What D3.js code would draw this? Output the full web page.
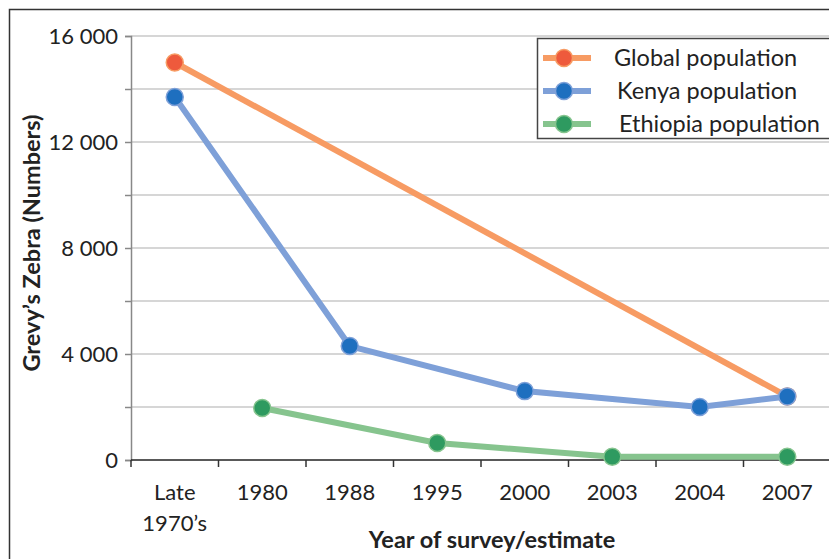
<!DOCTYPE html>
<html lang="en">
<head>
    <meta charset="UTF-8">
    <title>Grevy's Zebra population</title>
    <script src="https://d3js.org/d3.v7.min.js"></script>
</head>

<style>
    body { margin: 0; background: #fff; }
    text {
        font-family: Lato, "Open Sans", sans-serif;
        fill: #222;
    }
    .grid line { stroke: #c8c8c8; stroke-width: 1.5px; }
</style>

<body>
<svg width="829" height="559"></svg>

<script>
    // data
    var years = ["Late\n1970\u2019s", "1980", "1988", "1995", "2000", "2003", "2004", "2007"];
    var globalPop = [15000, null, null, null, null, null, null, 2400];
    var kenyaPop = [13700, null, 4300, null, 2600, null, 2000, 2400];
    var ethiopiaPop = [null, 1960, null, 640, null, 125, null, 125];
    var seriesNames = ["Global population", "Kenya population", "Ethiopia population"];
    var yTicks = [0, 4000, 8000, 12000, 16000];

    var series = [
        {name: seriesNames[0], values: globalPop, line: "#f79b63", dot: "#ee5a3c"},
        {name: seriesNames[1], values: kenyaPop, line: "#7ea0d8", dot: "#1e6fbf"},
        {name: seriesNames[2], values: ethiopiaPop, line: "#86c48e", dot: "#2e9a60"}
    ];

    var svg = d3.select("svg");
    var plotL = 131, plotR = 831, plotT = 36, plotB = 460;

    // outer frame (runs off the right and bottom edges)
    svg.append("rect")
        .attr("x", 9.5).attr("y", 9.5)
        .attr("width", 900).attr("height", 700)
        .attr("fill", "none").attr("stroke", "#333").attr("stroke-width", 1.5);

    var x = d3.scaleBand().domain(d3.range(years.length)).range([plotL, plotR]);
    var y = d3.scaleLinear().domain([0, 16000]).range([plotB, plotT]);

    // gridlines every 2000
    svg.append("g").attr("class", "grid")
        .selectAll("line")
        .data(d3.range(2000, 16001, 2000))
        .enter().append("line")
        .attr("x1", plotL).attr("x2", plotR)
        .attr("y1", function(d) { return y(d); })
        .attr("y2", function(d) { return y(d); });

    // y axis
    var yAxis = svg.append("g")
        .attr("transform", "translate(" + plotL + ",0)")
        .call(d3.axisLeft(y).tickValues(d3.range(0, 16001, 2000))
            .tickSize(6).tickPadding(7)
            .tickFormat(function(d) {
                return yTicks.indexOf(d) >= 0 ? d3.format(",")(d).replace(",", " ") : "";
            }));
    yAxis.select(".domain").attr("stroke", "#888").attr("stroke-width", 1.5);
    yAxis.selectAll(".tick line").attr("stroke", "#888").attr("stroke-width", 1.5);
    yAxis.selectAll(".tick text")
        .style("font-size", "22px").style("font-family", "Lato, sans-serif").attr("fill", "#222");

    // x axis with ticks between categories
    var xAxis = svg.append("g").attr("transform", "translate(0," + plotB + ")");
    xAxis.append("line")
        .attr("x1", plotL).attr("x2", plotR)
        .attr("stroke", "#222").attr("stroke-width", 1.5);
    xAxis.selectAll(".xt")
        .data(d3.range(years.length + 1))
        .enter().append("line")
        .attr("class", "xt")
        .attr("x1", function(d) { return plotL + d * x.bandwidth(); })
        .attr("x2", function(d) { return plotL + d * x.bandwidth(); })
        .attr("y1", 0).attr("y2", 7)
        .attr("stroke", "#333").attr("stroke-width", 1.5);

    var xLabels = xAxis.selectAll(".xl")
        .data(years)
        .enter().append("text")
        .attr("class", "xl")
        .attr("text-anchor", "middle")
        .attr("transform", function(d, i) {
            return "translate(" + (x(i) + x.bandwidth() / 2) + ",40)";
        })
        .style("font-size", "22px");
    xLabels.selectAll("tspan")
        .data(function(d) { return d.split("\n"); })
        .enter().append("tspan")
        .attr("x", 0)
        .attr("dy", function(d, i) { return i === 0 ? 0 : 31; })
        .text(function(d) { return d; });

    // axis titles
    svg.append("text")
        .attr("transform", "translate(40,243) rotate(-90)")
        .attr("text-anchor", "middle")
        .style("font-size", "23.5px").style("font-weight", "bold")
        .text("Grevy\u2019s Zebra (Numbers)");

    svg.append("text")
        .attr("x", 492).attr("y", 548)
        .attr("text-anchor", "middle")
        .style("font-size", "23.5px").style("font-weight", "bold")
        .text("Year of survey/estimate");

    // series
    var line = d3.line()
        .x(function(d) { return x(d.i) + x.bandwidth() / 2; })
        .y(function(d) { return y(d.v); });

    series.forEach(function(s) {
        var pts = s.values.map(function(v, i) { return {i: i, v: v}; })
            .filter(function(d) { return d.v !== null; });
        var g = svg.append("g");
        g.append("path")
            .datum(pts)
            .attr("d", line)
            .attr("fill", "none")
            .attr("stroke", s.line)
            .attr("stroke-width", 6);
        g.selectAll("circle")
            .data(pts)
            .enter().append("circle")
            .attr("cx", function(d) { return x(d.i) + x.bandwidth() / 2; })
            .attr("cy", function(d) { return y(d.v); })
            .attr("r", 8.5)
            .attr("fill", s.dot)
            .attr("stroke", s.line)
            .attr("stroke-width", 1.5);
    });

    // legend
    var legend = svg.append("g");
    legend.append("rect")
        .attr("x", 537.5).attr("y", 38.5)
        .attr("width", 320).attr("height", 100)
        .attr("fill", "#fff").attr("stroke", "#444").attr("stroke-width", 1.5);

    var rowY = [58, 91, 124], textX = [614, 617, 619];
    series.forEach(function(s, i) {
        var r = legend.append("g").attr("transform", "translate(0," + rowY[i] + ")");
        r.append("line")
            .attr("x1", 543).attr("x2", 591)
            .attr("stroke", s.line).attr("stroke-width", 6);
        r.append("circle")
            .attr("cx", 564).attr("r", 8.5)
            .attr("fill", s.dot).attr("stroke", s.line).attr("stroke-width", 1.5);
        r.append("text")
            .attr("x", textX[i]).attr("dy", "0.35em")
            .style("font-size", "23.5px")
            .text(s.name);
    });
</script>
</body>
</html>
